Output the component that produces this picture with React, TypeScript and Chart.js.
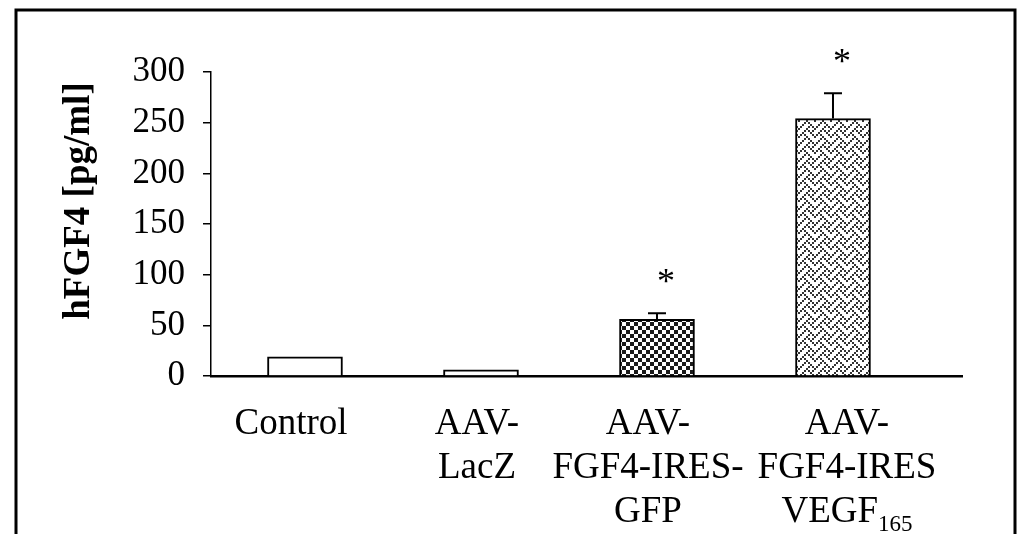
import React, { useEffect, useRef } from 'react';
import { Chart, registerables } from 'chart.js';

Chart.register(...registerables);

// ---- data ----
const categoryLines: string[][] = [
  ['Control'],
  ['AAV-', 'LacZ'],
  ['AAV-', 'FGF4-IRES-', 'GFP'],
  ['AAV-', 'FGF4-IRES', 'VEGF_165'],
];
const positions = [0, 1, 2, 3];
const meanValues = [19, 6, 56, 254];
const errorValues = [0, 0, 6, 25];
const significant = [false, false, true, true];
const yTicks = [0, 50, 100, 150, 200, 250, 300];
const yTitle = 'hFGF4 [pg/ml]';

const SERIF = '"Liberation Serif", "Times New Roman", serif';
// small horizontal nudges of the category captions (style only)
const LABEL_NUDGE = [-14, -4, -9, 14];

function makePattern(bytes: number[], cell: number, fg: string): CanvasPattern | string {
  const c = document.createElement('canvas');
  c.width = 8 * cell;
  c.height = 8 * cell;
  const g = c.getContext('2d');
  if (!g) return '#fff';
  g.fillStyle = '#fff';
  g.fillRect(0, 0, c.width, c.height);
  g.fillStyle = fg;
  for (let r = 0; r < 8; r++) {
    for (let col = 0; col < 8; col++) {
      if (bytes[r] & (0x80 >> col)) g.fillRect(col * cell, r * cell, cell, cell);
    }
  }
  return g.createPattern(c, 'repeat') || '#fff';
}

export default function App() {
  const ref = useRef<HTMLCanvasElement>(null);

  useEffect(() => {
    if (!ref.current) return;
    const fills = [
      '#ffffff',
      makePattern([0x80, 0x00, 0x00, 0x00, 0x08, 0x00, 0x00, 0x00], 2, '#555'),
      makePattern([0x99, 0x66, 0x66, 0x99, 0x99, 0x66, 0x66, 0x99], 2, '#1a1a1a'),
      makePattern([0x11, 0x2a, 0x44, 0xa2, 0x11, 0x28, 0x44, 0x8a], 2, '#333'),
    ];

    const overlay = {
      id: 'overlay',
      afterDraw(chart: any) {
        const ctx = chart.ctx as CanvasRenderingContext2D;
        const xs = chart.scales.x;
        const ys = chart.scales.y;
        ctx.save();
        // error bars
        ctx.strokeStyle = '#000';
        ctx.lineWidth = 2;
        positions.forEach((p, i) => {
          if (!errorValues[i]) return;
          const x = xs.getPixelForValue(p);
          const y0 = ys.getPixelForValue(meanValues[i]);
          const y1 = ys.getPixelForValue(meanValues[i] + errorValues[i]);
          ctx.beginPath();
          ctx.moveTo(x, y0);
          ctx.lineTo(x, y1);
          ctx.moveTo(x - 9, y1);
          ctx.lineTo(x + 9, y1);
          ctx.stroke();
        });
        // asterisks
        ctx.fillStyle = '#000';
        ctx.font = `36px ${SERIF}`;
        ctx.textAlign = 'center';
        ctx.textBaseline = 'middle';
        positions.forEach((p, i) => {
          if (!significant[i]) return;
          const x = xs.getPixelForValue(p) + 9;
          const y1 = ys.getPixelForValue(meanValues[i] + errorValues[i]);
          ctx.fillText('*', x, y1 - 30);
        });
        // x category labels
        const lh = 44;
        positions.forEach((p, i) => {
          const cx = xs.getPixelForValue(p) + LABEL_NUDGE[i];
          categoryLines[i].forEach((line, j) => {
            const y = 424 + j * lh;
            const parts = line.split('_');
            ctx.font = `37px ${SERIF}`;
            const w0 = ctx.measureText(parts[0]).width;
            let w1 = 0;
            if (parts[1]) {
              ctx.font = `23px ${SERIF}`;
              w1 = ctx.measureText(parts[1]).width;
            }
            const start = cx - (w0 + w1) / 2;
            ctx.textAlign = 'left';
            ctx.textBaseline = 'middle';
            ctx.font = `37px ${SERIF}`;
            ctx.fillText(parts[0], start, y);
            if (parts[1]) {
              ctx.font = `23px ${SERIF}`;
              ctx.fillText(parts[1], start + w0, y + 13);
            }
          });
        });
        // y title
        ctx.font = `bold 37px ${SERIF}`;
        ctx.textAlign = 'center';
        ctx.textBaseline = 'middle';
        ctx.translate(79, 201);
        ctx.rotate(-Math.PI / 2);
        ctx.fillText(yTitle, 0, 0);
        ctx.restore();
        // frame
        ctx.save();
        ctx.strokeStyle = '#000';
        ctx.lineWidth = 3;
        ctx.beginPath();
        ctx.moveTo(16, 534);
        ctx.lineTo(16, 10);
        ctx.lineTo(1015, 10);
        ctx.lineTo(1015, 534);
        ctx.stroke();
        ctx.restore();
      },
    };

    const chart = new Chart(ref.current, {
      type: 'bar',
      data: {
        datasets: [
          {
            data: positions.map((p, i) => ({ x: p, y: meanValues[i] })),
            backgroundColor: fills as any,
            borderColor: '#000',
            borderWidth: 2,
            barThickness: 75,
          },
        ],
      },
      options: {
        responsive: false,
        animation: false,
        layout: { padding: { left: 0, top: 72, right: 59, bottom: 0 } },
        plugins: { legend: { display: false }, tooltip: { enabled: false } },
        scales: {
          x: {
            type: 'linear',
            offset: false,
            min: -0.534,
            max: 3.733,
            ticks: { display: false },
            grid: { display: false },
            border: { display: true, color: '#000', width: 2.5 },
            afterFit: (s: any) => {
              s.height = 158;
            },
          },
          y: {
            min: 0,
            max: 300,
            afterBuildTicks: (s: any) => {
              s.ticks = yTicks.map((v) => ({ value: v }));
            },
            ticks: {
              color: '#000',
              font: { family: SERIF, size: 35 },
              padding: 18,
            },
            grid: {
              drawOnChartArea: false,
              drawTicks: true,
              tickLength: 8,
              color: '#000',
              lineWidth: 1.5,
            },
            border: { display: true, color: '#000', width: 1.5 },
            afterFit: (s: any) => {
              s.width = 211;
            },
          },
        },
      },
      plugins: [overlay],
    });
    return () => chart.destroy();
  }, []);

  return (
    <div style={{ position: 'fixed', left: 0, top: 0, width: 1021, height: 534, background: '#fff' }}>
      <canvas ref={ref} width={1021} height={534} style={{ width: 1021, height: 534, display: 'block' }} />
    </div>
  );
}
